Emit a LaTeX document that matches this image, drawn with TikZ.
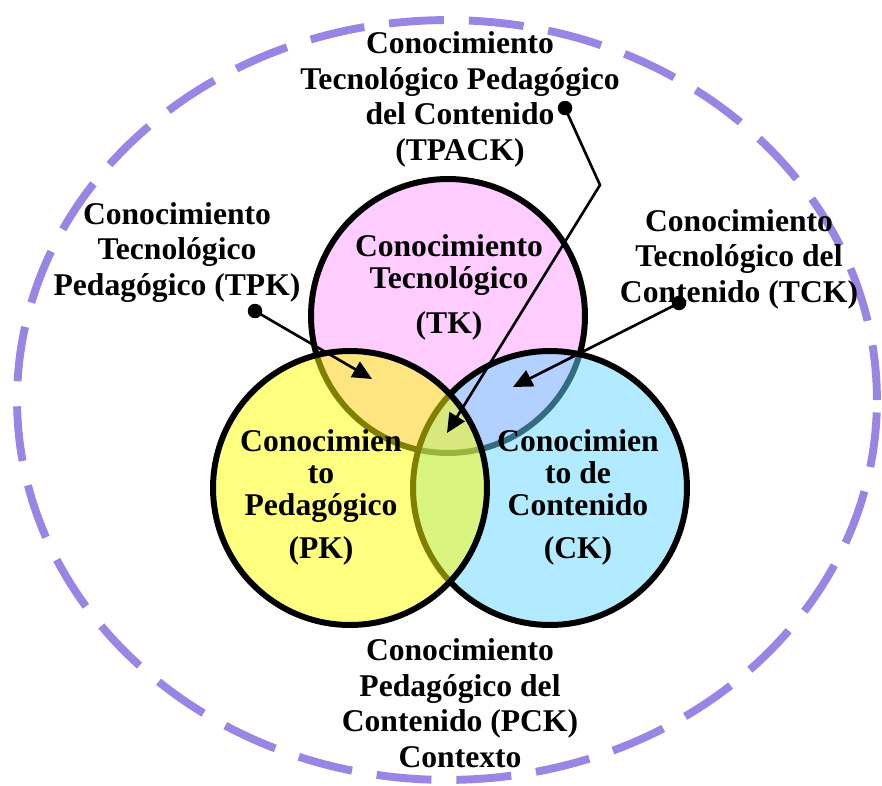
\documentclass[tikz,border=0pt]{standalone}
\usepackage{fontspec}
\setmainfont{Liberation Serif}
\usetikzlibrary{arrows.meta}
\definecolor{pinkf}{RGB}{255,204,255}
\definecolor{yelf}{RGB}{255,255,0}
\definecolor{bluef}{RGB}{102,214,255}
\definecolor{ctx}{RGB}{153,133,227}
\tikzset{
 circ/.style={circle, draw=black, line width=3.4pt, minimum size=5.48cm, inner sep=0pt},
 lbl/.style={align=center, font=\fontsize{18}{20.2}\selectfont\bfseries, inner sep=0pt, anchor=base},
 inlbl/.style={align=center, font=\fontsize{18}{18.3}\selectfont\bfseries, inner sep=0pt, anchor=base},
 dot/.style={circle, fill=black, minimum size=0.29cm, inner sep=0pt},
 conn/.style={line width=1.5pt, -{Triangle[length=11pt,width=10pt]}},
}
\begin{document}
\begin{tikzpicture}[x=0.02cm,y=-0.02cm]
\useasboundingbox (0,0) rectangle (882,785);
\draw[ctx, line width=4.5pt, dash pattern=on 1.1cm off 0.5cm] (447,400) ellipse [x radius=8.6cm, y radius=7.6cm];
\node[circ, fill=pinkf] (TK) at (448,316) {};
\node[circ, fill=bluef, fill opacity=0.5] (CK) at (550,488) {};
\node[circ, fill=yelf, fill opacity=0.5] (PK) at (350,488) {};
\node[lbl] (tpack) at (460,160) {Conocimiento\\Tecnológico Pedagógico\\del Contenido\\(TPACK)};
\node[lbl] (tpk) at (177,295) {Conocimiento\\Tecnológico\\Pedagógico (TPK)};
\node[lbl] (tck) at (739,302) {Conocimiento\\Tecnológico del\\Contenido (TCK)};
\node[inlbl] (tkt) at (449,333) {Conocimiento\\Tecnológico\\[7pt](TK)};
\node[inlbl] (pkt) at (321,558) {Conocimien\\to\\Pedagógico\\[6pt](PK)};
\node[inlbl] (ckt) at (578,558) {Conocimien\\to de\\Contenido\\[6pt](CK)};
\node[lbl] (pck) at (460,767) {Conocimiento\\Pedagógico del\\Contenido (PCK)\\Contexto};
\node[dot] (d1) at (565,108) {};
\coordinate (b1) at (600,185);
\coordinate (e1) at (447,433);
\draw[conn] (d1.center) -- (b1) -- (e1);
\node[dot] (d2) at (255,311) {};
\coordinate (e2) at (372,379);
\draw[conn] (d2.center) -- (e2);
\node[dot] (d3) at (679,303) {};
\coordinate (e3) at (513,387);
\draw[conn] (d3.center) -- (e3);
\end{tikzpicture}
\end{document}
